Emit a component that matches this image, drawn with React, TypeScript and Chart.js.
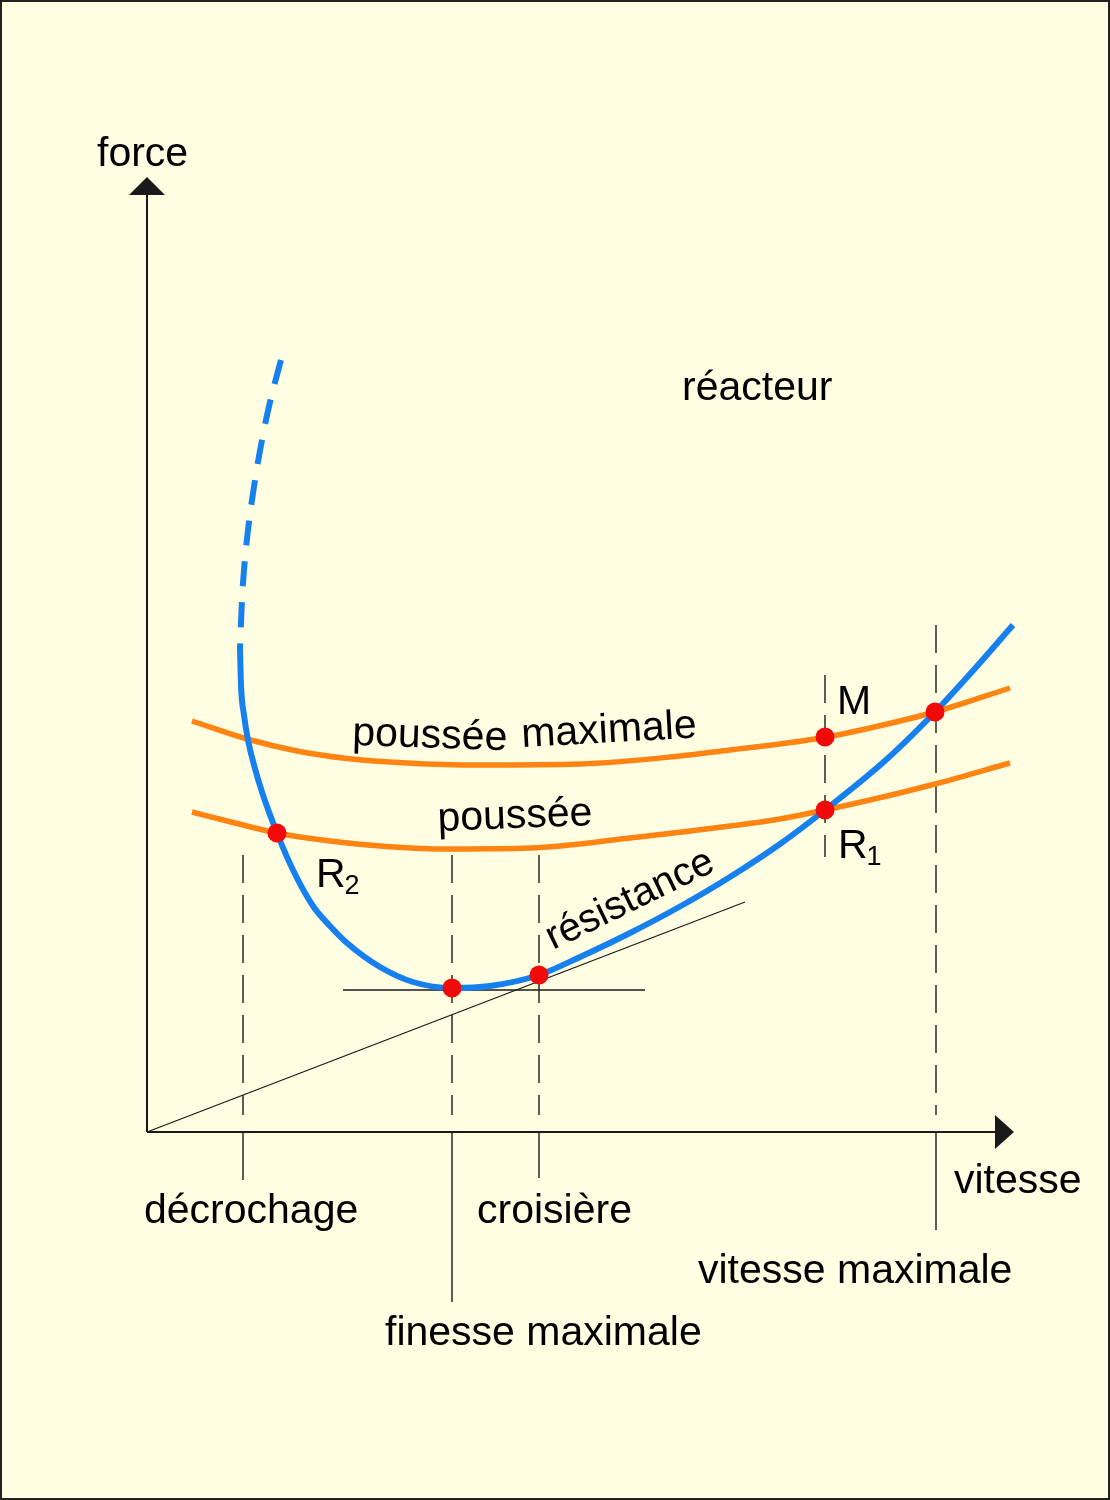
import React, { useEffect, useRef } from 'react';
import Chart from 'chart.js/auto';

// Axis ranges (abstract units: vitesse horizontally, force vertically)
const X_MIN = -14.7;
const X_MAX = 96.3;
const Y_MIN = -36.8;
const Y_MAX = 113.2;

// Résistance (traînée) – dashed upper branch near stall, from top to bottom
const resistanceDashedX = [13.4, 12.3, 11.5, 10.8, 10.1, 9.7, 9.5, 9.3];
const resistanceDashedY = [77.2, 73.0, 69.2, 65.2, 60.2, 56.2, 53.2, 48.4];

// Résistance – solid curve
const resistanceX = [9.3, 9.4, 9.7, 10.1, 10.7, 11.5, 13.0, 14.6, 16.6, 18.3, 20.0, 23.3, 26.6, 30.5, 34.3, 39.2, 43.3, 48.3, 53.3, 58.3, 63.3, 67.8, 74.0, 78.8, 82.3, 86.6];
const resistanceY = [48.4, 44.7, 41.7, 39.2, 36.7, 34.0, 29.9, 26.2, 22.6, 20.6, 18.9, 16.5, 15.0, 14.4, 14.6, 15.7, 17.5, 19.9, 22.55, 25.5, 28.8, 32.2, 37.3, 42.0, 45.8, 50.7];

// Poussée maximale
const pousseeMaxX = [4.5, 10.0, 15.0, 20.0, 26.0, 33.3, 43.3, 53.3, 58.3, 63.3, 68.0, 72.3, 78.8, 86.3];
const pousseeMaxY = [41.1, 39.3, 38.1, 37.35, 36.9, 36.7, 36.8, 37.6, 38.2, 38.8, 39.5, 40.4, 42.0, 44.4];

// Poussée
const pousseeX = [4.5, 9.0, 13.0, 18.3, 23.3, 29.3, 38.3, 48.3, 58.3, 63.3, 67.8, 74.0, 78.8, 86.3];
const pousseeY = [32.0, 30.85, 29.9, 29.1, 28.6, 28.3, 28.4, 29.4, 30.6, 31.3, 32.2, 33.6, 34.8, 36.9];

// Remarkable points: R2, finesse max, croisière, R1, M, vitesse max
const keyPointsX = [13.0, 30.5, 39.2, 67.8, 67.8, 78.8];
const keyPointsY = [29.9, 14.4, 15.7, 32.2, 39.5, 42.0];

// Vertical guides: décrochage, finesse maximale, croisière, M/R1, vitesse maximale
const guideX = [9.6, 30.5, 39.2, 67.8, 78.9];
const guideDashTop = [27.7, 27.7, 27.7, 45.7, 50.7];
const guideDashBottom = [1.7, 1.7, 1.7, 27.5, 1.7];
const guideSolidBottom: (number | null)[] = [-4.8, -17.0, -4.6, null, -9.8];

// Tangent from origin and horizontal tangent at minimum
const tangentX = [0, 59.8];
const tangentY = [0, 23.0];
const horizX = [19.6, 49.8];
const horizY = [14.2, 14.2];

// Axes
const axisXEnd = 84.8;
const axisXTip = 86.7;
const axisYEnd = 93.7;
const axisYTip = 95.5;

// Text annotations
type Label = { text: string; x: number; y: number; rot?: number; size?: number; sub?: string };
const labels: Label[] = [
  { text: 'force', x: -5.0, y: 96.6 },
  { text: 'réacteur', x: 53.5, y: 73.2 },
  { text: 'poussée', x: 20.5, y: 38.7, rot: 1.9 },
  { text: 'maximale', x: 37.5, y: 38.5, rot: -3.1 },
  { text: 'poussée', x: 29.1, y: 30.1, rot: -2.2 },
  { text: 'résistance', x: 40.6, y: 18.2, rot: -26, size: 40 },
  { text: 'M', x: 69.0, y: 41.8 },
  { text: 'R', x: 69.1, y: 27.4, sub: '1' },
  { text: 'R', x: 16.9, y: 24.5, sub: '2' },
  { text: 'décrochage', x: -0.3, y: -9.1 },
  { text: 'croisière', x: 33.0, y: -9.1 },
  { text: 'vitesse', x: 80.7, y: -6.1 },
  { text: 'vitesse maximale', x: 55.1, y: -15.1 },
  { text: 'finesse maximale', x: 23.8, y: -21.3 },
];

const BLUE = '#1681ee';
const ORANGE = '#ff8412';
const RED = '#f00a0a';
const INK = '#1a1a1a';
const BG = '#fffee2';
const FONT = '"Liberation Sans", Arial, Helvetica, sans-serif';

const zip = (xs: number[], ys: number[]) => xs.map((x, i) => ({ x, y: ys[i] }));

export default function App() {
  const ref = useRef<HTMLCanvasElement | null>(null);

  useEffect(() => {
    const canvas = ref.current;
    if (!canvas) return;

    const line = (data: { x: number; y: number }[], color: string, width: number, extra: any = {}) => ({
      data,
      showLine: true,
      borderColor: color,
      borderWidth: width,
      pointRadius: 0,
      pointHoverRadius: 0,
      fill: false,
      tension: 0,
      clip: false,
      order: 5,
      ...extra,
    });

    const smooth = { cubicInterpolationMode: 'monotone', tension: 0.4 };

    const datasets: any[] = [];
    datasets.push({
      data: zip(keyPointsX, keyPointsY),
      showLine: false,
      pointRadius: 9.5,
      pointBackgroundColor: RED,
      pointBorderWidth: 0,
      pointBorderColor: RED,
      clip: false,
      order: 0,
    });
    datasets.push(line(zip(resistanceX, resistanceY), BLUE, 6, { ...smooth, order: 1 }));
    datasets.push(line(zip(resistanceDashedX, resistanceDashedY), BLUE, 6, { ...smooth, order: 1, borderDash: [25, 16] }));
    datasets.push(line(zip(pousseeMaxX, pousseeMaxY), ORANGE, 5.5, { ...smooth, order: 2 }));
    datasets.push(line(zip(pousseeX, pousseeY), ORANGE, 5.5, { ...smooth, order: 2 }));
    datasets.push(line(zip(tangentX, tangentY), INK, 1.3));
    datasets.push(line(zip(horizX, horizY), INK, 1.3));
    guideX.forEach((gx, i) => {
      datasets.push(line([{ x: gx, y: guideDashTop[i] }, { x: gx, y: guideDashBottom[i] }], INK, 1.4, { borderDash: [28, 12] }));
      const sb = guideSolidBottom[i];
      if (sb !== null) {
        datasets.push(line([{ x: gx, y: 0 }, { x: gx, y: sb }], INK, 1.4));
      }
    });
    datasets.push(line([{ x: 0, y: 0 }, { x: axisXEnd, y: 0 }], INK, 2));
    datasets.push(line([{ x: 0, y: 0 }, { x: 0, y: axisYEnd }], INK, 2));

    const bgPlugin = {
      id: 'bg',
      beforeDraw(chart: any) {
        const { ctx, width, height } = chart;
        ctx.save();
        ctx.fillStyle = BG;
        ctx.fillRect(0, 0, width, height);
        ctx.strokeStyle = '#222';
        ctx.lineWidth = 2;
        ctx.strokeRect(1, 1, width - 2, height - 2);
        ctx.restore();
      },
    };

    const decorPlugin = {
      id: 'decor',
      afterDatasetsDraw(chart: any) {
        const { ctx } = chart;
        const sx = chart.scales.x;
        const sy = chart.scales.y;
        const px = (v: number) => sx.getPixelForValue(v);
        const py = (v: number) => sy.getPixelForValue(v);
        ctx.save();
        // arrowheads
        ctx.fillStyle = INK;
        ctx.beginPath();
        ctx.moveTo(px(0), py(axisYTip));
        ctx.lineTo(px(-1.8), py(axisYEnd));
        ctx.lineTo(px(1.8), py(axisYEnd));
        ctx.closePath();
        ctx.fill();
        ctx.beginPath();
        ctx.moveTo(px(axisXTip), py(0));
        ctx.lineTo(px(axisXEnd), py(1.7));
        ctx.lineTo(px(axisXEnd), py(-1.7));
        ctx.closePath();
        ctx.fill();
        // labels
        ctx.fillStyle = '#000';
        ctx.textAlign = 'left';
        ctx.textBaseline = 'alphabetic';
        labels.forEach((l) => {
          ctx.save();
          ctx.translate(px(l.x), py(l.y));
          if (l.rot) ctx.rotate((l.rot * Math.PI) / 180);
          ctx.font = `${l.size ?? 41}px ${FONT}`;
          ctx.fillText(l.text, 0, 0);
          if (l.sub) {
            const w = ctx.measureText(l.text).width;
            ctx.font = `27px ${FONT}`;
            ctx.fillText(l.sub, w - 1, 7);
          }
          ctx.restore();
        });
        ctx.restore();
      },
    };

    const chart = new Chart(canvas, {
      type: 'scatter',
      data: { datasets },
      options: {
        animation: false,
        responsive: false,
        maintainAspectRatio: false,
        devicePixelRatio: 1,
        events: [],
        layout: { padding: 0, autoPadding: false },
        plugins: { legend: { display: false }, tooltip: { enabled: false } },
        scales: {
          x: { type: 'linear', min: X_MIN, max: X_MAX, display: false },
          y: { type: 'linear', min: Y_MIN, max: Y_MAX, display: false },
        },
      },
      plugins: [bgPlugin, decorPlugin],
    });
    return () => chart.destroy();
  }, []);

  return (
    <div style={{ position: 'absolute', left: 0, top: 0, width: 1110, height: 1500 }}>
      <canvas ref={ref} width={1110} height={1500} style={{ display: 'block' }} />
    </div>
  );
}
